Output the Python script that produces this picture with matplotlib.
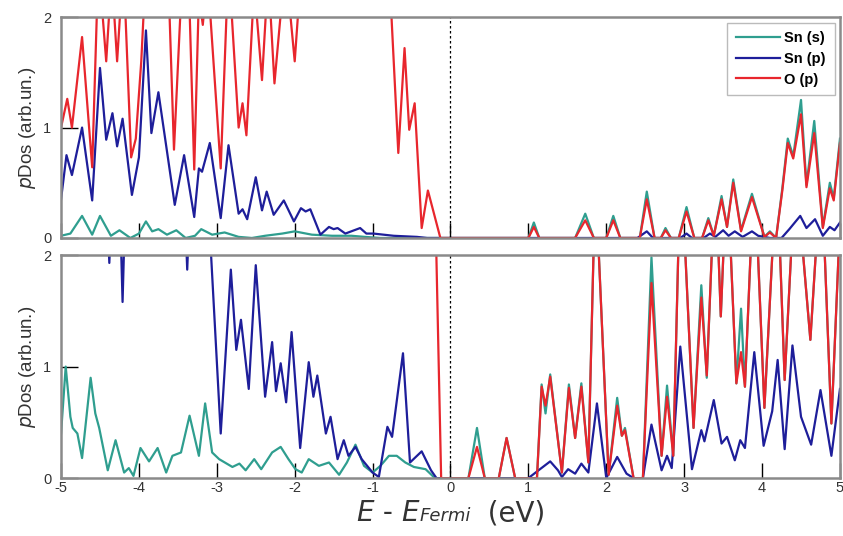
import matplotlib
matplotlib.use("Agg")
import matplotlib.pyplot as plt
from matplotlib.offsetbox import TextArea, HPacker, AnchoredOffsetbox

plt.rcParams["axes.unicode_minus"] = False
plt.rcParams["font.family"] = ["Liberation Sans", "DejaVu Sans"]

# ---- data (energy in eV, pDos in arb. units) ----
# upper panel
top_sns_e = [-5.0, -4.88, -4.73, -4.60, -4.50, -4.36, -4.25, -4.11, -4.0, -3.91, -3.83, -3.75, -3.64,
             -3.52, -3.40, -3.28, -3.20, -3.06, -2.90, -2.72, -2.55, -2.38, -2.16, -2.0, -1.78, -1.52,
             -1.27, -1.10, -0.90, 0.95, 1.0, 1.07, 1.14, 1.60, 1.73, 1.84, 2.0, 2.09, 2.18, 2.43, 2.52,
             2.62, 2.70, 2.76, 2.83, 2.93, 3.03, 3.13, 3.23, 3.31, 3.38, 3.48, 3.55, 3.63, 3.73, 3.87,
             4.03, 4.10, 4.18, 4.26, 4.33, 4.40, 4.50, 4.57, 4.67, 4.78, 4.87, 4.92, 5.0]
top_sns_v = [0.02, 0.04, 0.20, 0.03, 0.20, 0.02, 0.07, 0.0, 0.04, 0.15, 0.06, 0.08, 0.03,
             0.07, 0.0, 0.02, 0.08, 0.03, 0.05, 0.01, 0.0, 0.02, 0.04, 0.06, 0.03, 0.02,
             0.02, 0.01, 0.0, 0.0, 0.0, 0.14, 0.0, 0.0, 0.22, 0.0, 0.0, 0.20, 0.0, 0.0, 0.42,
             0.0, 0.0, 0.09, 0.0, 0.0, 0.28, 0.0, 0.0, 0.18, 0.02, 0.38, 0.10, 0.53, 0.07, 0.40,
             0.01, 0.06, 0.0, 0.45, 0.90, 0.74, 1.25, 0.48, 1.06, 0.10, 0.50, 0.36, 0.90]

top_snp_e = [-5.0, -4.93, -4.86, -4.73, -4.60, -4.50, -4.42, -4.34, -4.28, -4.21, -4.09, -4.0, -3.91,
             -3.84, -3.75, -3.54, -3.42, -3.29, -3.23, -3.19, -3.09, -2.95, -2.85, -2.72, -2.67, -2.61,
             -2.50, -2.42, -2.36, -2.27, -2.14, -2.01, -1.92, -1.86, -1.80, -1.67, -1.56, -1.50, -1.45,
             -1.35, -1.16, -1.08, -0.99, -0.73, -0.43, -0.30, 2.40, 2.52, 2.60, 2.95, 3.03, 3.10, 3.25,
             3.33, 3.40, 3.50, 3.57, 3.65, 3.75, 3.87, 3.95, 4.10, 4.25, 4.35, 4.49, 4.57, 4.68, 4.78,
             4.87, 4.93, 5.0]
top_snp_v = [0.35, 0.75, 0.57, 1.0, 0.34, 1.54, 0.89, 1.13, 0.83, 1.08, 0.39, 0.73, 1.88,
             0.95, 1.32, 0.30, 0.75, 0.19, 0.63, 0.60, 0.86, 0.18, 0.84, 0.22, 0.26, 0.17,
             0.55, 0.25, 0.42, 0.21, 0.34, 0.15, 0.27, 0.24, 0.26, 0.03, 0.10, 0.08, 0.09,
             0.04, 0.09, 0.04, 0.04, 0.02, 0.01, 0.0, 0.0, 0.06, 0.0, 0.0, 0.04, 0.0, 0.0,
             0.04, 0.01, 0.07, 0.02, 0.06, 0.01, 0.06, 0.02, 0.0, 0.0, 0.08, 0.20, 0.09, 0.17, 0.02,
             0.10, 0.07, 0.14]

top_op_e = [-5.0, -4.92, -4.86, -4.73, -4.60, -4.52, -4.42, -4.35, -4.28, -4.20, -4.10, -4.04, -3.97,
            -3.90, -3.75, -3.62, -3.55, -3.45, -3.38, -3.29, -3.23, -3.18, -3.12, -2.95, -2.85, -2.72,
            -2.67, -2.62, -2.52, -2.42, -2.34, -2.26, -2.12, -2.0, -1.90, -0.80, -0.67, -0.59, -0.53,
            -0.46, -0.37, -0.29, -0.13, 1.0, 1.07, 1.14, 1.60, 1.73, 1.84, 2.0, 2.09, 2.18, 2.43, 2.52,
            2.62, 2.70, 2.76, 2.83, 2.93, 3.03, 3.13, 3.23, 3.31, 3.38, 3.48, 3.55, 3.63, 3.73, 3.87,
            4.03, 4.10, 4.18, 4.26, 4.33, 4.40, 4.50, 4.57, 4.67, 4.78, 4.87, 4.92, 5.0]
top_op_v = [1.0, 1.26, 1.0, 1.82, 0.64, 2.5, 1.6, 2.4, 1.6, 2.5, 0.73, 0.9, 1.6,
            2.6, 2.8, 2.3, 0.80, 2.3, 2.8, 0.62, 2.2, 1.93, 2.4, 0.63, 2.5, 1.0,
            1.22, 0.93, 2.3, 1.43, 2.4, 1.40, 2.5, 1.60, 2.6, 2.6, 0.77, 1.72, 0.98,
            1.22, 0.09, 0.43, 0.0, 0.0, 0.10, 0.0, 0.0, 0.16, 0.0, 0.0, 0.16, 0.0, 0.0, 0.35,
            0.0, 0.0, 0.07, 0.0, 0.0, 0.24, 0.0, 0.0, 0.16, 0.02, 0.35, 0.10, 0.50, 0.06, 0.37,
            0.01, 0.05, 0.0, 0.43, 0.86, 0.72, 1.12, 0.46, 0.95, 0.09, 0.45, 0.34, 0.86]

# lower panel
bot_sns_e = [-5.0, -4.94, -4.88, -4.85, -4.79, -4.73, -4.62, -4.56, -4.51, -4.40, -4.30, -4.19, -4.13,
             -4.07, -3.98, -3.87, -3.76, -3.65, -3.57, -3.46, -3.35, -3.23, -3.15, -3.06, -2.97, -2.80,
             -2.71, -2.63, -2.52, -2.43, -2.29, -2.18, -2.08, -1.99, -1.91, -1.82, -1.69, -1.56, -1.43,
             -1.33, -1.22, -1.11, -1.0, -0.90, -0.79, -0.69, -0.58, -0.47, -0.32, -0.20, 0.23, 0.34,
             0.44, 0.62, 0.72, 0.83, 1.11, 1.17, 1.22, 1.28, 1.43, 1.52, 1.60, 1.68, 1.77, 1.86, 2.03,
             2.14, 2.20, 2.24, 2.35, 2.47, 2.58, 2.71, 2.78, 2.86, 2.955, 3.12, 3.22, 3.29, 3.40, 3.47,
             3.55, 3.67, 3.73, 3.78, 3.90, 4.03, 4.19, 4.29, 4.43, 4.62, 4.76, 4.89, 5.0]
bot_sns_v = [0.40, 1.0, 0.55, 0.45, 0.40, 0.18, 0.90, 0.58, 0.45, 0.07, 0.34, 0.05, 0.09,
             0.02, 0.27, 0.15, 0.27, 0.05, 0.20, 0.23, 0.56, 0.20, 0.67, 0.23, 0.17, 0.10,
             0.13, 0.07, 0.17, 0.08, 0.23, 0.28, 0.17, 0.08, 0.05, 0.17, 0.11, 0.14, 0.03,
             0.14, 0.30, 0.11, 0.05, 0.11, 0.20, 0.20, 0.14, 0.10, 0.08, 0.0, 0.0, 0.45,
             0.0, 0.0, 0.36, 0.0, 0.0, 0.84, 0.58, 0.93, 0.05, 0.84, 0.36, 0.85, 0.14, 2.7, 0.03,
             0.72, 0.38, 0.45, 0.0, 0.0, 1.98, 0.20, 0.83, 0.20, 2.9, 0.45, 1.73, 0.90, 2.8, 1.45,
             2.8, 0.85, 1.52, 0.82, 2.8, 0.63, 2.8, 0.88, 2.8, 1.24, 2.8, 0.49, 2.3]

bot_snp_e = [-5.0, -4.42, -4.38, -4.34, -4.25, -4.21, -4.17, -3.42, -3.38, -3.34, -3.12, -2.95, -2.82,
             -2.75, -2.69, -2.59, -2.50, -2.38, -2.29, -2.24, -2.18, -2.11, -2.04, -1.93, -1.82, -1.76,
             -1.71, -1.60, -1.54, -1.45, -1.37, -1.31, -1.22, -1.14, -1.0, -0.92, -0.81, -0.75, -0.61,
             -0.52, -0.37, -0.25, -0.18, 1.0, 1.13, 1.28, 1.38, 1.43, 1.51, 1.60, 1.68, 1.77, 1.88, 2.0,
             2.14, 2.26, 2.35, 2.47, 2.58, 2.71, 2.78, 2.84, 2.95, 3.10, 3.22, 3.26, 3.38, 3.48, 3.55,
             3.65, 3.72, 3.78, 3.90, 4.02, 4.13, 4.20, 4.29, 4.39, 4.50, 4.63, 4.75, 4.89, 5.0]
bot_snp_v = [2.6, 2.6, 1.93, 2.6, 2.6, 1.58, 2.6, 2.6, 1.87, 2.6, 2.6, 0.40, 1.87,
             1.15, 1.42, 0.80, 1.91, 0.73, 1.22, 0.78, 1.03, 0.68, 1.31, 0.27, 1.04, 0.73,
             0.92, 0.40, 0.55, 0.17, 0.34, 0.20, 0.28, 0.17, 0.05, 0.01, 0.46, 0.37, 1.12,
             0.14, 0.24, 0.07, 0.0, 0.0, 0.07, 0.15, 0.07, 0.01, 0.08, 0.04, 0.13, 0.05, 0.67, 0.0,
             0.19, 0.04, 0.0, 0.0, 0.48, 0.07, 0.20, 0.09, 1.18, 0.08, 0.43, 0.33, 0.70, 0.31, 0.37,
             0.16, 0.34, 0.27, 1.13, 0.29, 0.60, 1.06, 0.26, 1.19, 0.55, 0.30, 0.79, 0.20, 0.80]

bot_op_e = [-5.0, -0.20, -0.12, 0.23, 0.34, 0.44, 0.62, 0.72, 0.83, 1.11, 1.17, 1.22, 1.28, 1.43,
            1.52, 1.60, 1.68, 1.77, 1.86, 2.03, 2.14, 2.20, 2.24, 2.35, 2.47, 2.58, 2.71, 2.78, 2.86,
            2.955, 3.12, 3.22, 3.29, 3.40, 3.47, 3.55, 3.67, 3.73, 3.78, 3.90, 4.03, 4.19, 4.29, 4.43,
            4.62, 4.76, 4.89, 5.0]
bot_op_v = [2.6, 2.6, 0.0, 0.0, 0.28, 0.0, 0.0, 0.36, 0.0, 0.0, 0.82, 0.65, 0.91, 0.05,
            0.81, 0.36, 0.82, 0.14, 2.7, 0.03, 0.65, 0.38, 0.43, 0.0, 0.0, 1.75, 0.20, 0.73, 0.20,
            2.9, 0.45, 1.62, 0.92, 2.8, 1.45, 2.8, 0.85, 1.13, 0.82, 2.8, 0.63, 2.8, 0.88, 2.8,
            1.24, 2.8, 0.49, 2.3]

labels = ["Sn (s)", "Sn (p)", "O (p)"]
colors = ["#2f9e8f", "#1e1e9a", "#e8262d"]
x_ticks = [-5, -4, -3, -2, -1, 0, 1, 2, 3, 4, 5]
y_ticks = [0, 1, 2]

fig = plt.figure(figsize=(8.43, 5.36), dpi=100)
ax_top = fig.add_axes([0.0724, 0.556, 0.924, 0.412])
ax_bot = fig.add_axes([0.0724, 0.108, 0.924, 0.416])

panels = [
    (ax_top, [(top_sns_e, top_sns_v), (top_snp_e, top_snp_v), (top_op_e, top_op_v)]),
    (ax_bot, [(bot_sns_e, bot_sns_v), (bot_snp_e, bot_snp_v), (bot_op_e, bot_op_v)]),
]

for ax, series in panels:
    for (e, v), lab, c in zip(series, labels, colors):
        ax.plot(e, v, color=c, lw=1.6, label=lab, solid_joinstyle="round")
    ax.axvline(0, color="black", lw=0.9, ls=(0, (2, 2)))
    ax.set_xlim(-5, 5)
    ax.set_ylim(0, 2)
    ax.set_xticks(x_ticks)
    ax.set_yticks(y_ticks)
    for sp in ax.spines.values():
        sp.set_color("#8a8a8a")
        sp.set_linewidth(1.8)
    ax.tick_params(axis="x", direction="in", length=11, width=1, color="black",
                   labelsize=10.5, labelcolor="#333333", pad=2)
    ax.tick_params(axis="y", direction="in", length=12, width=1, color="black",
                   labelsize=10.5, labelcolor="#333333", pad=7)
    ax.set_ylabel(r"$\mathit{p}$Dos (arb.un.)", fontsize=13.5, color="#333333", labelpad=4)

ax_top.tick_params(axis="x", labelbottom=False)

leg = ax_top.legend(loc="upper right", bbox_to_anchor=(0.993, 0.975), borderaxespad=0,
                    fancybox=False, edgecolor="#bbbbbb", framealpha=1,
                    prop={"weight": "bold", "size": 10.5}, handlelength=3.0,
                    handletextpad=0.3, labelspacing=0.45, borderpad=0.6)
leg.get_frame().set_linewidth(1.0)

# x label: "E - E" + smaller italic "Fermi" on the same baseline + "(eV)"
big = dict(size=20, color="#333333", family="DejaVu Sans")
parts = [
    TextArea("E", textprops=dict(style="italic", **big)),
    TextArea(" - ", textprops=big),
    TextArea("E", textprops=dict(style="italic", **big)),
    TextArea("Fermi", textprops=dict(style="italic", size=13, color="#333333", family="DejaVu Sans")),
    TextArea("  (eV)", textprops=big),
]
box = HPacker(children=parts, align="baseline", pad=0, sep=0)
anchored = AnchoredOffsetbox(loc="center", child=box, frameon=False,
                             bbox_to_anchor=(0.535, 0.042), bbox_transform=fig.transFigure,
                             borderpad=0, pad=0)
fig.add_artist(anchored)

fig.savefig("out.png", dpi=100)
